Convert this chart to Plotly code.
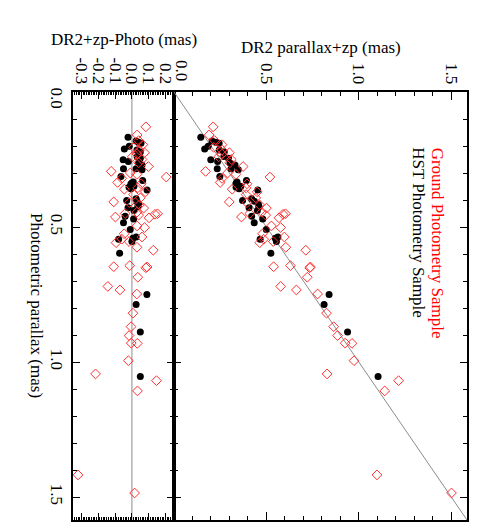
import plotly.graph_objects as go
from plotly.subplots import make_subplots

# HST photometry sample (black dots)
hst_photo = [0.168, 0.181, 0.190, 0.186, 0.211, 0.201, 0.215, 0.222, 0.251, 0.257,
             0.239, 0.245, 0.270, 0.263, 0.284, 0.284, 0.288, 0.313, 0.337, 0.333,
             0.341, 0.349, 0.328, 0.353, 0.363, 0.358, 0.402, 0.395, 0.417, 0.405,
             0.429, 0.439, 0.425, 0.460, 0.484, 0.470, 0.509, 0.545, 0.542, 0.537,
             0.554, 0.597, 0.750, 0.787, 0.889, 1.054]
hst_dr2 = [0.145, 0.206, 0.244, 0.226, 0.166, 0.185, 0.245, 0.272, 0.199, 0.236,
           0.270, 0.295, 0.330, 0.303, 0.234, 0.309, 0.348, 0.248, 0.337, 0.341,
           0.335, 0.361, 0.392, 0.336, 0.453, 0.352, 0.371, 0.420, 0.457, 0.435,
           0.406, 0.451, 0.460, 0.420, 0.434, 0.480, 0.499, 0.466, 0.548, 0.562,
           0.554, 0.524, 0.839, 0.812, 0.939, 1.104]
hst_resid = [-0.023, 0.025, 0.054, 0.040, -0.045, -0.016, 0.030, 0.050, -0.052, -0.021,
             0.031, 0.050, 0.060, 0.040, -0.050, 0.025, 0.060, -0.065, 0.000, 0.008,
             -0.006, 0.012, 0.064, -0.017, 0.090, -0.006, -0.031, 0.025, 0.040, 0.030,
             -0.023, 0.012, 0.035, -0.040, -0.050, 0.010, -0.010, -0.079, 0.006, 0.025,
             0.000, -0.073, 0.089, 0.025, 0.050, 0.050]

# Ground photometry sample (red diamonds)
gnd_photo = [0.129, 0.159, 0.180, 0.195, 0.205, 0.215, 0.225, 0.230, 0.240, 0.250,
             0.262, 0.276, 0.294, 0.300, 0.305, 0.315, 0.320, 0.335, 0.340, 0.355,
             0.360, 0.370, 0.380, 0.392, 0.407, 0.410, 0.418, 0.430, 0.445, 0.450,
             0.463, 0.453, 0.451, 0.466, 0.456, 0.502, 0.496, 0.525, 0.554, 0.537,
             0.558, 0.545, 0.575, 0.586, 0.647, 0.643, 0.651, 0.648, 0.686, 0.720,
             0.733, 0.748, 0.819, 0.869, 0.902, 0.930, 0.931, 0.995, 1.044, 1.069,
             1.107, 1.418, 1.485]
gnd_dr2 = [0.212, 0.190, 0.220, 0.260, 0.215, 0.260, 0.300, 0.260, 0.242, 0.310,
           0.302, 0.374, 0.171, 0.290, 0.335, 0.519, 0.260, 0.250, 0.395, 0.390,
           0.315, 0.450, 0.390, 0.442, 0.299, 0.395, 0.463, 0.500, 0.475, 0.410,
           0.365, 0.590, 0.603, 0.568, 0.496, 0.577, 0.527, 0.479, 0.537, 0.597,
           0.464, 0.485, 0.605, 0.713, 0.539, 0.630, 0.734, 0.738, 0.721, 0.577,
           0.662, 0.777, 0.825, 0.864, 0.885, 0.926, 0.963, 0.974, 0.828, 1.215,
           1.140, 1.098, 1.501]
gnd_resid = [0.083, 0.031, 0.040, 0.065, 0.010, 0.045, 0.075, 0.030, 0.002, 0.060,
             0.040, 0.098, -0.123, -0.010, 0.030, 0.204, -0.060, -0.085, 0.055, 0.035,
             -0.045, 0.080, 0.010, 0.050, -0.108, -0.015, 0.045, 0.070, 0.030, -0.040,
             -0.098, 0.137, 0.152, 0.102, 0.040, 0.075, 0.031, -0.046, -0.017, 0.060,
             -0.094, -0.060, 0.030, 0.127, -0.108, -0.013, 0.083, 0.090, 0.035, -0.143,
             -0.071, 0.029, 0.006, -0.005, -0.017, -0.004, 0.032, -0.021, -0.216, 0.146,
             0.033, -0.320, 0.016]

par_range = 1.585
res_range = [-0.35, 0.25]
par_ticks = [0.0, 0.5, 1.0, 1.5]
par_labels = ['', '0.5', '1.0', '1.5']   # the 0.0 labels are nudged, drawn as annotations
res_ticks = [-0.3, -0.2, -0.1, 0.0, 0.1, 0.2]
res_labels = ['-0.3', '-0.2', '-0.1', '0.0', '0.1', '0.2']

font = "'Liberation Serif', 'Times New Roman', Times, serif"
red = '#ff3030'

fig = make_subplots(rows=1, cols=2, column_widths=[0.2563, 0.7437],
                    horizontal_spacing=0)

# residual panel
fig.add_trace(go.Scatter(x=[0, 0], y=[0, par_range], mode='lines',
                         line=dict(color='#8c8c8c', width=1), showlegend=False), 1, 1)
fig.add_trace(go.Scatter(x=hst_resid, y=hst_photo, mode='markers',
                         marker=dict(symbol='circle', size=7, color='black'),
                         showlegend=False), 1, 1)
fig.add_trace(go.Scatter(x=gnd_resid, y=gnd_photo, mode='markers',
                         marker=dict(symbol='diamond-open', size=7.5, color=red,
                                     line=dict(width=1, color=red)),
                         showlegend=False), 1, 1)

# main panel
fig.add_trace(go.Scatter(x=[0, par_range], y=[0, par_range], mode='lines',
                         line=dict(color='#8c8c8c', width=1), showlegend=False), 1, 2)
fig.add_trace(go.Scatter(x=hst_dr2, y=hst_photo, mode='markers',
                         marker=dict(symbol='circle', size=7, color='black'),
                         showlegend=False), 1, 2)
fig.add_trace(go.Scatter(x=gnd_dr2, y=gnd_photo, mode='markers',
                         marker=dict(symbol='diamond-open', size=7.5, color=red,
                                     line=dict(width=1, color=red)),
                         showlegend=False), 1, 2)

axis_common = dict(showline=True, linewidth=1.5, linecolor='black', showgrid=False,
                   zeroline=False, mirror='ticks', ticks='inside', tickwidth=1,
                   tickcolor='black', tickangle=90, automargin=False,
                   tickfont=dict(family=font, size=17, color='black'))

fig.update_xaxes(range=res_range, tickvals=res_ticks, ticktext=res_labels, side='top',
                 ticklen=7, ticklabelstandoff=0,
                 minor=dict(dtick=0.01, tick0=0, ticklen=3, ticks='inside', tickcolor='black'),
                 **axis_common, row=1, col=1)
fig.update_xaxes(range=[0, par_range], tickvals=par_ticks, ticktext=par_labels, side='top',
                 ticklen=8, ticklabelstandoff=0,
                 minor=dict(dtick=0.1, tick0=0, ticklen=4, ticks='inside', tickcolor='black'),
                 **axis_common, row=1, col=2)
fig.update_yaxes(range=[par_range, 0], tickvals=par_ticks, ticktext=par_labels,
                 ticklen=7,
                 minor=dict(dtick=0.1, tick0=0, ticklen=4, ticks='inside', tickcolor='black'),
                 **axis_common, row=1, col=1)
fig.update_yaxes(range=[par_range, 0], tickvals=par_ticks, showticklabels=False,
                 ticklen=7,
                 minor=dict(dtick=0.1, tick0=0, ticklen=4, ticks='inside', tickcolor='black'),
                 **axis_common, row=1, col=2)

ann = dict(xref='paper', yref='paper', showarrow=False, xanchor='center', yanchor='middle')
fig.update_layout(
    # page body adds an 8px offset, so the figure is 8px smaller and margins shifted
    width=488, height=523,
    margin=dict(l=65, r=29, t=84, b=11),
    plot_bgcolor='white', paper_bgcolor='white',
    font=dict(family=font, size=17, color='black'),
    annotations=[
        dict(text='DR2+zp-Photo (mas)', x=0.129, y=1.1215, **ann),
        dict(text='DR2 parallax+zp (mas)', x=0.629, y=1.105, **ann),
        dict(text='Photometric parallax (mas)', x=-0.0914, y=0.5, textangle=90, **ann),
        dict(text='0.0', x=0.2766, y=1.049, textangle=90, **ann),
        dict(text='0.0', x=-0.0431, y=0.987, textangle=90, **ann),
        dict(text='Ground Photometry Sample', x=0.926, y=0.646, textangle=90,
             font=dict(color='red', family=font, size=17), **ann),
        dict(text='HST Photometry Sample', x=0.876, y=0.672, textangle=90,
             font=dict(color='black', family=font, size=17), **ann),
    ],
)

fig.write_html("out.html")
